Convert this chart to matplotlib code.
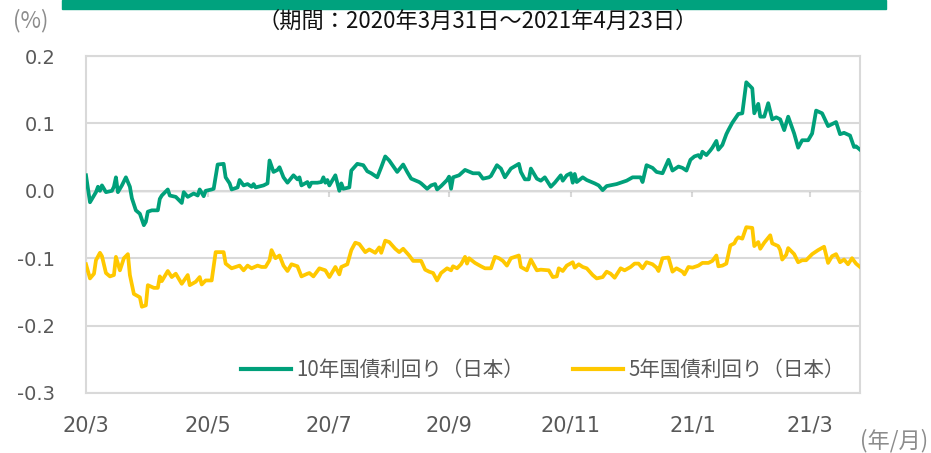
import matplotlib
matplotlib.use("Agg")
import matplotlib.pyplot as plt
from matplotlib.lines import Line2D

plt.rcParams['font.family'] = ['DejaVu Sans', 'Noto Sans CJK JP']

# ---- data (day offset from 2020-03-31, yield %) ----
green_days = [0, 2, 5, 6, 7, 8, 10, 13, 14, 15, 16, 18, 20, 22, 23, 25, 27, 29, 30, 31,
              33, 36, 37, 38, 41, 42, 45, 46, 48, 49, 51, 54, 56, 57, 59, 60, 63, 64, 66, 69,
              70, 72, 73, 76, 77, 79, 81, 83, 84, 85, 89, 91, 92, 94, 96, 97, 99, 101, 104, 106,
              107, 108, 111, 112, 113, 116, 118, 119, 120, 121, 122, 125, 127, 128, 129, 132, 133, 136, 139, 141,
              143, 146, 148, 150, 152, 156, 159, 161, 163, 167, 168, 171, 173, 175, 176, 178, 181, 182, 183, 184,
              187, 190, 194, 197, 199, 202, 203, 206, 208, 210, 213, 217, 218, 220, 222, 223, 226, 228, 230, 233,
              235, 238, 239, 241, 243, 244, 245, 246, 249, 251, 255, 257, 259, 261, 266, 269, 271, 274, 278, 279,
              281, 284, 286, 289, 292, 294, 297, 299, 301, 303, 305, 307, 308, 309, 311, 313, 314, 316, 317, 319,
              321, 322, 324, 327, 329, 331, 334, 335, 337, 338, 340, 342, 344, 346, 348, 350, 352, 355, 357, 359,
              362, 364, 366, 369, 372, 374, 376, 378, 380, 383, 385, 386, 388]
green_vals = [0.023, -0.017, -0.002, 0.006, 0.000, 0.008, -0.002, 0.000, 0.006, 0.020, -0.002, 0.008, 0.020, 0.006, -0.011, -0.029, -0.034, -0.051, -0.046, -0.031,
              -0.029, -0.029, -0.012, -0.007, 0.002, -0.007, -0.009, -0.012, -0.018, -0.002, -0.009, -0.004, -0.007, 0.002, -0.008, 0.000, 0.002, 0.003, 0.039, 0.040,
              0.020, 0.011, 0.002, 0.005, 0.016, 0.008, 0.010, 0.006, 0.010, 0.005, 0.008, 0.011, 0.045, 0.028, 0.031, 0.035, 0.020, 0.012, 0.023, 0.017,
              0.020, 0.008, 0.013, 0.006, 0.012, 0.012, 0.013, 0.020, 0.012, 0.016, 0.008, 0.023, 0.000, 0.011, 0.003, 0.005, 0.030, 0.040, 0.038, 0.029,
              0.026, 0.020, 0.035, 0.051, 0.045, 0.028, 0.039, 0.028, 0.018, 0.013, 0.011, 0.003, 0.008, 0.010, 0.002, 0.007, 0.016, 0.021, 0.003, 0.020,
              0.023, 0.031, 0.026, 0.026, 0.018, 0.020, 0.022, 0.038, 0.033, 0.020, 0.033, 0.040, 0.028, 0.017, 0.017, 0.033, 0.018, 0.015, 0.020, 0.006,
              0.012, 0.023, 0.015, 0.023, 0.026, 0.012, 0.025, 0.013, 0.020, 0.016, 0.011, 0.008, 0.001, 0.007, 0.010, 0.013, 0.015, 0.020, 0.020, 0.013,
              0.038, 0.034, 0.028, 0.026, 0.046, 0.030, 0.036, 0.034, 0.030, 0.046, 0.051, 0.053, 0.049, 0.058, 0.053, 0.060, 0.064, 0.074, 0.061, 0.068,
              0.084, 0.090, 0.101, 0.114, 0.115, 0.161, 0.152, 0.115, 0.129, 0.110, 0.110, 0.130, 0.106, 0.109, 0.106, 0.090, 0.110, 0.085, 0.064, 0.075,
              0.075, 0.085, 0.119, 0.115, 0.096, 0.099, 0.102, 0.084, 0.086, 0.082, 0.065, 0.066, 0.061]

yellow_days = [0, 2, 4, 5, 7, 8, 10, 12, 14, 15, 17, 19, 21, 22, 24, 27, 28, 30, 31, 34,
               36, 37, 38, 41, 43, 45, 48, 51, 52, 55, 57, 58, 60, 63, 65, 69, 70, 73, 76, 77,
               79, 81, 83, 86, 88, 90, 92, 93, 95, 97, 99, 101, 103, 106, 108, 111, 112, 114, 117, 120,
               122, 125, 127, 128, 131, 133, 135, 137, 140, 142, 145, 147, 148, 150, 152, 155, 157, 159, 162, 164,
               168, 170, 172, 174, 176, 178, 181, 183, 184, 186, 188, 190, 191, 192, 195, 198, 200, 203, 205, 207,
               209, 211, 213, 217, 218, 221, 223, 226, 228, 232, 234, 236, 237, 239, 241, 244, 245, 247, 249, 251,
               254, 256, 259, 261, 263, 265, 268, 270, 273, 275, 277, 279, 281, 284, 286, 287, 289, 292, 294, 296,
               299, 300, 302, 304, 307, 309, 312, 314, 315, 316, 317, 319, 321, 323, 325, 326, 327, 329, 331, 334,
               335, 337, 338, 340, 343, 344, 347, 348, 349, 351, 352, 355, 357, 359, 361, 364, 367, 370, 372, 374,
               376, 378, 380, 382, 384, 386, 388]
yellow_vals = [-0.109, -0.130, -0.123, -0.103, -0.092, -0.097, -0.122, -0.127, -0.125, -0.098, -0.118, -0.100, -0.094, -0.125, -0.153, -0.158, -0.172, -0.170, -0.140, -0.144,
               -0.144, -0.127, -0.134, -0.119, -0.128, -0.123, -0.138, -0.125, -0.140, -0.135, -0.128, -0.139, -0.133, -0.133, -0.091, -0.091, -0.108, -0.115, -0.112, -0.111,
               -0.118, -0.111, -0.115, -0.111, -0.113, -0.113, -0.103, -0.088, -0.100, -0.096, -0.111, -0.119, -0.109, -0.112, -0.127, -0.123, -0.122, -0.127, -0.115, -0.118,
               -0.128, -0.113, -0.124, -0.113, -0.109, -0.088, -0.077, -0.079, -0.091, -0.087, -0.092, -0.084, -0.092, -0.074, -0.076, -0.086, -0.091, -0.086, -0.096, -0.104,
               -0.104, -0.117, -0.120, -0.122, -0.133, -0.122, -0.115, -0.118, -0.112, -0.115, -0.109, -0.098, -0.108, -0.100, -0.107, -0.112, -0.115, -0.115, -0.098, -0.100,
               -0.104, -0.111, -0.100, -0.096, -0.113, -0.118, -0.102, -0.118, -0.117, -0.118, -0.128, -0.127, -0.115, -0.119, -0.111, -0.106, -0.114, -0.109, -0.113, -0.115,
               -0.125, -0.130, -0.128, -0.120, -0.123, -0.129, -0.115, -0.118, -0.113, -0.108, -0.108, -0.115, -0.106, -0.109, -0.114, -0.119, -0.100, -0.099, -0.120, -0.115,
               -0.120, -0.124, -0.113, -0.114, -0.111, -0.107, -0.107, -0.104, -0.100, -0.096, -0.112, -0.111, -0.108, -0.081, -0.078, -0.072, -0.069, -0.071, -0.054, -0.055,
               -0.082, -0.076, -0.086, -0.077, -0.066, -0.078, -0.082, -0.088, -0.102, -0.095, -0.085, -0.094, -0.106, -0.103, -0.103, -0.094, -0.088, -0.083, -0.107, -0.097,
               -0.094, -0.106, -0.102, -0.109, -0.100, -0.108, -0.113]

tick_days = [0, 61, 122, 182, 243, 304, 363]
tick_labels = ["20/3", "20/5", "20/7", "20/9", "20/11", "21/1", "21/3"]
y_ticks = [0.2, 0.1, 0.0, -0.1, -0.2, -0.3]
series_names = ["10年国債利回り（日本）", "5年国債利回り（日本）"]
title_text = "（期間：2020年3月31日～2021年4月23日）"

GREEN = "#00A07A"
YELLOW = "#FFC800"
GRID = "#D9D9D9"
TXT = "#595959"
JP = ['Noto Sans CJK JP', 'DejaVu Sans']

fig = plt.figure(figsize=(9.31, 4.53), dpi=100)
ax = fig.add_axes([86/931, 1-393/453, (860-86)/931, (393-56)/453])

ax.plot(green_days, green_vals, color=GREEN, lw=2.7, solid_joinstyle='round', zorder=3)
ax.plot(yellow_days, yellow_vals, color=YELLOW, lw=2.7, solid_joinstyle='round', zorder=3)

ax.set_xlim(0, 388)
ax.set_ylim(-0.3, 0.2)
ax.set_yticks(y_ticks)
ax.set_yticklabels([f"{v:.1f}" for v in y_ticks])
ax.set_xticks(tick_days)
ax.set_xticklabels(tick_labels)
ax.tick_params(axis='both', length=0, colors=TXT)
ax.tick_params(axis='y', pad=22, labelsize=14)
ax.tick_params(axis='x', pad=16, labelsize=15)
for s in ax.spines.values():
    s.set_color(GRID)
    s.set_linewidth(1.5)
ax.yaxis.grid(True, color=GRID, lw=1.5)
ax.set_axisbelow(True)

# category axis at 0.0 with small upward ticks
sec = ax.secondary_xaxis(0.6)
sec.set_xticks(tick_days)
sec.set_xticklabels([])
sec.tick_params(axis='x', direction='in', length=4, width=1.5, color=GRID)
sec.spines['bottom'].set_color(GRID)
sec.spines['bottom'].set_linewidth(1.5)

# legend
handles = [Line2D([], [], color=GREEN, lw=3), Line2D([], [], color=YELLOW, lw=3)]
leg = ax.legend(handles, series_names, loc='center', bbox_to_anchor=(0.59, 0.068), ncol=2,
                frameon=False, prop={'family': JP, 'size': 14.8}, handlelength=2.44,
                handletextpad=0.25, columnspacing=2.4, borderaxespad=0.0, borderpad=0.0)
for t in leg.get_texts():
    t.set_color(TXT)

# top bar and texts
fig.patches.append(plt.Rectangle((62/931, 1-9/453), (886-62)/931, 9/453, transform=fig.transFigure,
                                 color="#00A27E", zorder=0))
fig.text(478/931, 1-21/453, title_text, ha='center', va='center', fontsize=16,
         family=JP, color='#111111')
fig.text(31/931, 1-21/453, "(%)", ha='center', va='center', fontsize=16, color='#8C8C8C', family=JP)
fig.text(894/931, 1-441/453, "(年/月)", ha='center', va='center', fontsize=16, color='#8C8C8C', family=JP)

fig.savefig("out.png", dpi=100)
